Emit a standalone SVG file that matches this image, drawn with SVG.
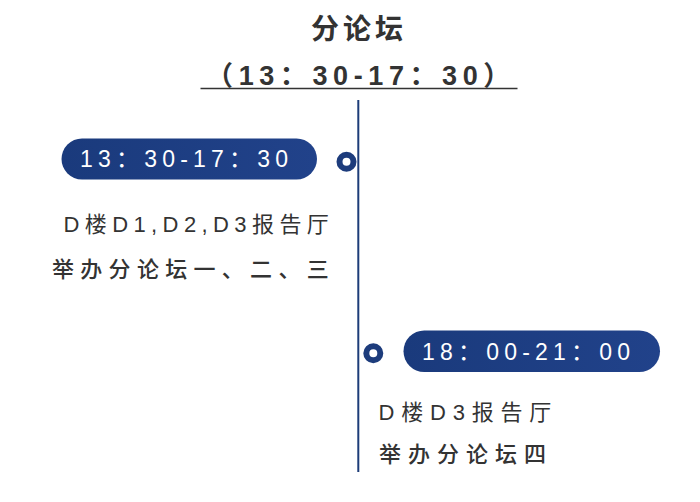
<svg xmlns="http://www.w3.org/2000/svg" width="700" height="502" viewBox="0 0 700 502">
<style>
.f{font-family:"Liberation Sans","Noto Sans CJK SC",sans-serif}
.title{font-size:28px;font-weight:bold;fill:#333;letter-spacing:4px}
.sub{font-size:27px;font-weight:bold;fill:#333;letter-spacing:5.6px}
.pt{font-size:23px;fill:#fff;letter-spacing:5.2px}
.l1{font-size:22px;fill:#333;letter-spacing:5.4px}
.l1r{font-size:22px;fill:#333;letter-spacing:6.8px}
.l2{font-size:22px;font-weight:500;fill:#333;letter-spacing:6.3px}
.l2r{font-size:22px;font-weight:500;fill:#333;letter-spacing:7px}
.ring{fill:none;stroke:#1d3c7c;stroke-width:6}
</style>
<defs>
<linearGradient id="g" x1="0" y1="0" x2="1" y2="0">
<stop offset="0" stop-color="#1a3a7c"/>
<stop offset="1" stop-color="#21428a"/>
</linearGradient>
</defs>
<rect width="700" height="502" fill="#fff"/>
<g id="title">
<text class="f title" x="359" y="39" text-anchor="middle">分论坛</text>
<text class="f sub" x="361" y="85" text-anchor="middle">（13：30-17：30）</text>
<line x1="200.5" y1="88.5" x2="517.5" y2="88.5" stroke="#333" stroke-width="1.5"/>
</g>
<g id="connectors">
<line x1="358.3" y1="100" x2="358.3" y2="472" stroke="#1d3c78" stroke-width="2"/>
</g>
<g id="node1">
<rect x="61.5" y="138.5" width="255.5" height="41" rx="20.5" fill="url(#g)"/>
<text class="f pt" x="80" y="166.7">13：30-17：30</text>
<circle class="ring" cx="346.5" cy="161.7" r="7"/>
<text class="f l1" x="63.5" y="231.5">D楼D1,D2,D3报告厅</text>
<text class="f l2" x="52" y="277">举办分论坛一、二、三</text>
</g>
<g id="node2">
<rect x="403.5" y="330.5" width="256.5" height="41.5" rx="20.75" fill="url(#g)"/>
<text class="f pt" x="422" y="359.8">18：00-21：00</text>
<circle class="ring" cx="373.3" cy="353.3" r="7"/>
<text class="f l1r" x="378.5" y="420">D楼D3报告厅</text>
<text class="f l2r" x="379" y="461.5">举办分论坛四</text>
</g>
</svg>
